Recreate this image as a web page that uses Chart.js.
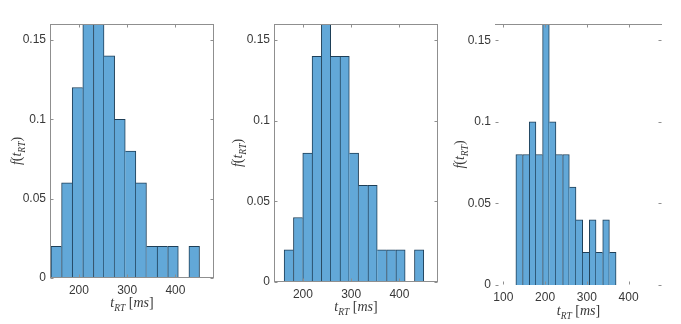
<!DOCTYPE html>
<html>
<head>
<meta charset="utf-8">
<script src="https://cdn.jsdelivr.net/npm/chart.js@4.4.1/dist/chart.umd.min.js"></script>
<style>
  body { margin: 0; background: #fff; }
  canvas.panel { position: absolute; left: 0; top: 0; }
</style>
</head>
<body>
<canvas class="panel" id="p1" width="681" height="324"></canvas>
<canvas class="panel" id="p2" width="681" height="324"></canvas>
<canvas class="panel" id="p3" width="681" height="324"></canvas>
<script>
// bin centres (ms) and probabilities
const centersA = [153, 175, 197, 219, 241, 263, 285, 307, 329, 351, 373, 395, 417, 439];
const probA = [0.02, 0.06, 0.12, 0.16, 0.16, 0.14, 0.10, 0.08, 0.06, 0.02, 0.02, 0.02, 0, 0.02];

const centersB = [170.65, 189.95, 209.25, 228.55, 247.85, 267.15, 286.45, 305.75, 325.05, 344.35, 363.65, 382.95, 402.25, 421.55, 440.85];
const probB = [0.02, 0.04, 0.08, 0.14, 0.16, 0.14, 0.14, 0.08, 0.06, 0.06, 0.02, 0.02, 0.02, 0, 0.02];

const centersC = [138, 154, 170, 186, 202, 218, 234, 250, 266, 282, 298, 314, 330, 346, 362];
const probC = [0.08, 0.08, 0.10, 0.08, 0.16, 0.10, 0.08, 0.08, 0.06, 0.04, 0.02, 0.04, 0.02, 0.04, 0.02];

const yTickVals = [0, 0.05, 0.1, 0.15];
const xTicksAB = [200, 300, 400];
const xTicksC = [100, 200, 300, 400];

const FILL = "#62a8d8";
const EDGE = "#1e3f58";
const AXIS = "#8f8f8f";
const TEXT = "#383838";

// shared edge between neighbours is drawn once, by the taller bar
function edgeWidths(probs) {
  return (c) => {
    const i = c.dataIndex;
    const h = probs[i];
    const prev = i > 0 ? probs[i - 1] : 0;
    const next = i < probs.length - 1 ? probs[i + 1] : 0;
    return { top: 1, bottom: 0, left: h >= prev ? 1 : 0, right: h > next ? 1 : 0 };
  };
}

// matlab-ish box with inward ticks
const framePlugin = {
  id: "frame",
  afterDatasetsDraw(chart, args, opts) {
    const { ctx, chartArea: a, scales } = chart;
    const L = Math.round(a.left) + 0.5, R = Math.round(a.right) - 0.5;
    const T = Math.round(a.top) + 0.5, B = Math.round(a.bottom) - 0.5;
    const tl = 3;
    ctx.save();
    ctx.strokeStyle = AXIS;
    ctx.lineWidth = 1;
    ctx.beginPath();
    const sides = opts.sides || [];
    if (sides.includes("top")) { ctx.moveTo(L - 0.5, T); ctx.lineTo(R + 0.5, T); }
    if (sides.includes("bottom")) { ctx.moveTo(L - 0.5, B); ctx.lineTo(R + 0.5, B); }
    if (sides.includes("left")) { ctx.moveTo(L, T); ctx.lineTo(L, B); }
    if (sides.includes("right")) { ctx.moveTo(R, T); ctx.lineTo(R, B); }
    for (const t of scales.x.ticks) {
      const px = Math.round(scales.x.getPixelForValue(t.value)) + 0.5;
      ctx.moveTo(px, B); ctx.lineTo(px, B - tl);
      ctx.moveTo(px, T); ctx.lineTo(px, T + tl);
    }
    for (const t of scales.y.ticks) {
      const py = Math.round(scales.y.getPixelForValue(t.value)) + 0.5;
      ctx.moveTo(L, py); ctx.lineTo(L + tl, py);
      ctx.moveTo(R, py); ctx.lineTo(R - tl, py);
    }
    ctx.stroke();
    ctx.restore();
  },
};

function drawMath(ctx, parts, size) {
  let w = 0;
  const runs = parts.map((p) => {
    const fs = p.sub ? size * 0.68 : size;
    const font = (p.it ? "italic " : "") + fs + "px 'Liberation Serif', serif";
    ctx.font = font;
    const pw = ctx.measureText(p.t).width;
    w += pw;
    return { t: p.t, sub: p.sub, font, pw };
  });
  let x = -w / 2;
  ctx.textAlign = "left";
  ctx.textBaseline = "alphabetic";
  for (const r of runs) {
    ctx.font = r.font;
    ctx.fillText(r.t, x, r.sub ? size * 0.28 : 0);
    x += r.pw;
  }
}

const xLabelParts = [
  { t: "t", it: true }, { t: "RT", it: true, sub: true },
  { t: " [" }, { t: "ms", it: true }, { t: "]" },
];
const yLabelParts = [
  { t: "f", it: true }, { t: "(" }, { t: "t", it: true },
  { t: "RT", it: true, sub: true }, { t: ")" },
];

const labelPlugin = {
  id: "axisLabels",
  afterDraw(chart, args, opts) {
    const { ctx, chartArea: a } = chart;
    ctx.save();
    ctx.fillStyle = TEXT;
    ctx.translate((a.left + a.right) / 2, opts.xLabelY);
    drawMath(ctx, xLabelParts, 14);
    ctx.restore();
    ctx.save();
    ctx.fillStyle = TEXT;
    ctx.translate(opts.yLabelX, (a.top + a.bottom) / 2);
    ctx.rotate(-Math.PI / 2);
    drawMath(ctx, yLabelParts, 14);
    ctx.restore();
  },
};

function makePanel(id, centers, probs, xTicks, box) {
  new Chart(document.getElementById(id), {
    type: "bar",
    data: {
      datasets: [{
        data: centers.map((c, i) => ({ x: c, y: probs[i] })),
        backgroundColor: FILL,
        borderColor: EDGE,
        borderWidth: edgeWidths(probs),
        barPercentage: 1,
        categoryPercentage: 1,
      }],
    },
    options: {
      responsive: false,
      animation: false,
      events: [],
      layout: { padding: { left: 0, top: box.top, right: 681 - box.right, bottom: 0 } },
      plugins: {
        legend: { display: false },
        tooltip: { enabled: false },
        frame: { sides: box.sides },
        axisLabels: { xLabelY: box.xLabelY, yLabelX: box.yLabelX },
      },
      scales: {
        x: {
          type: "linear",
          min: box.xMin,
          max: box.xMax,
          offset: false,
          grid: { display: false, drawTicks: false },
          border: { display: false },
          afterFit: (s) => { s.height = 324 - box.bottom; },
          afterBuildTicks: (s) => { s.ticks = xTicks.map((v) => ({ value: v })); },
          ticks: {
            padding: 5, color: TEXT, maxRotation: 0, autoSkip: false,
            font: { family: "'Liberation Sans', Arial, sans-serif", size: 12 },
            callback: (v) => String(v),
          },
        },
        y: {
          min: 0,
          max: 0.16,
          grid: { display: false, drawTicks: false },
          border: { display: false },
          afterFit: (s) => { s.width = box.left; },
          afterBuildTicks: (s) => { s.ticks = yTickVals.map((v) => ({ value: v })); },
          ticks: {
            padding: 4, color: TEXT, autoSkip: false,
            font: { family: "'Liberation Sans', Arial, sans-serif", size: 12 },
            callback: (v) => String(v),
          },
        },
      },
    },
    plugins: [framePlugin, labelPlugin],
  });
}

makePanel("p1", centersA, probA, xTicksAB, {
  left: 50, right: 214, top: 24, bottom: 278, xMin: 140, xMax: 480,
  sides: ["top", "bottom", "left", "right"], xLabelY: 307, yLabelX: 21,
});
makePanel("p2", centersB, probB, xTicksAB, {
  left: 274, right: 438, top: 24, bottom: 282, xMin: 140, xMax: 480,
  sides: ["top", "bottom", "left", "right"], xLabelY: 311, yLabelX: 242,
});
makePanel("p3", centersC, probC, xTicksC, {
  left: 495, right: 662, top: 24, bottom: 285, xMin: 80, xMax: 480,
  sides: ["top"], xLabelY: 315, yLabelX: 464,
});
</script>
</body>
</html>
